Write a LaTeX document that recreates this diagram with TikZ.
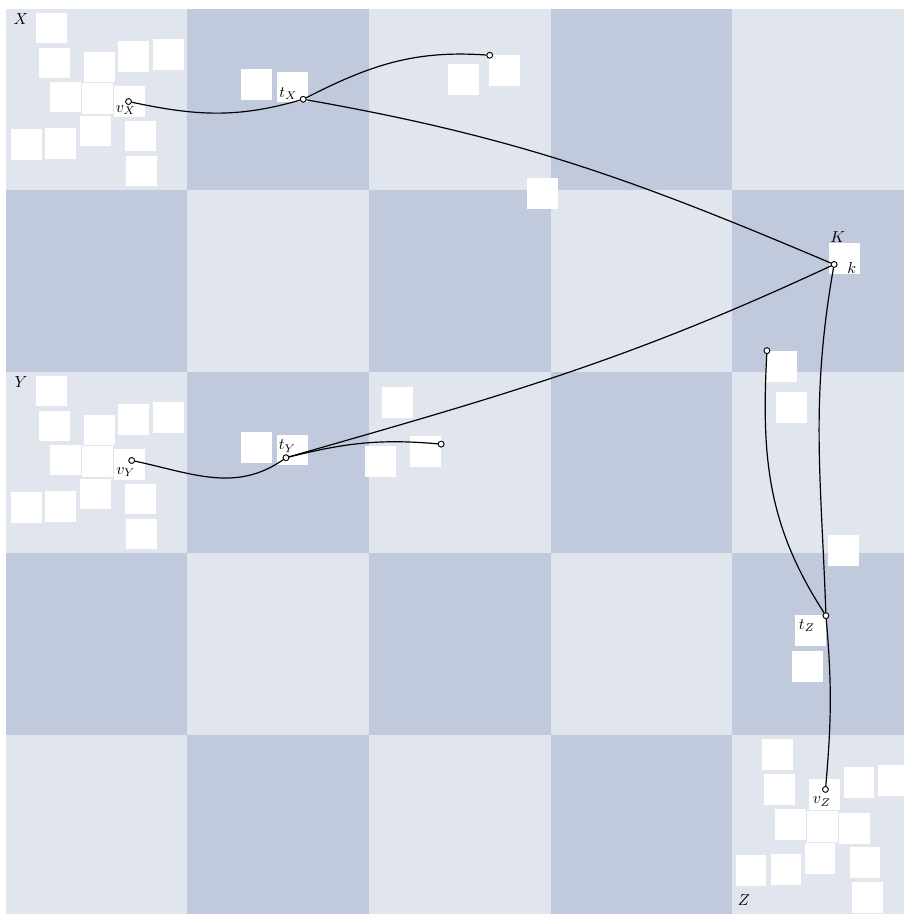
\documentclass[tikz,border=0pt]{standalone}
\usepackage{tikz}
\usetikzlibrary{positioning}
\definecolor{cLight}{HTML}{E0E5EE}
\definecolor{cDark}{HTML}{C1CADC}

% white patches of one block (top-left block, in cm)
\def\blockpatches{1.01/19.58,1.07/18.81,2.06/18.72,2.81/18.96,3.58/18.99,
  1.31/18.06,2.01/18.02,2.72/17.97,0.45/17.01,1.20/17.04,1.97/17.31,
  2.96/17.20,2.99/16.43}

\begin{document}
\begin{tikzpicture}[
  dot/.style={draw,circle,fill=white,inner sep=0pt,minimum size=3.6pt,line width=0.5pt},
  lab/.style={inner sep=1pt},
  blank/.style={fill=white},
  wire/.style={line width=0.75pt}
]
\clip (-0.132,0.055) rectangle (19.79,20.198);
% --- board ---
\fill[cLight] (0,0) rectangle (20,20);
\foreach \c/\r in {1/0,3/0,0/1,2/1,4/1,1/2,3/2,0/3,2/3,4/3,1/4,3/4}
  \fill[cDark] (4*\c,20-4*\r) rectangle ++(4,-4);

% --- white patches ---
\foreach \sh in {0,-8} {
  \begin{scope}[yshift=\sh cm]
    \foreach \x/\y in \blockpatches
      \fill[blank] (\x-0.34,\y-0.34) rectangle ++(0.68,0.68);
    \foreach \x/\y in {5.52/18.34,6.31/18.28}
      \fill[blank] (\x-0.34,\y-0.34) rectangle ++(0.68,0.68);
  \end{scope}
}
\begin{scope}[rotate around={180:(10,10)}]
  \foreach \x/\y in \blockpatches
    \fill[blank] (\x-0.34,\y-0.34) rectangle ++(0.68,0.68);
\end{scope}
\foreach \x/\y in {10.08/18.45,10.99/18.65,11.82/15.93,8.63/11.33,8.25/10.03,
  9.25/10.25,18.48/14.50,17.10/12.12,17.31/11.22,18.46/8.06,17.73/6.30,17.66/5.51}
  \fill[blank] (\x-0.34,\y-0.34) rectangle ++(0.68,0.68);

% --- block names ---
\node[lab] (nX) at (0.33,19.78) {$X$};
\node[lab] (nY) at (0.33,11.78) {$Y$};
\node[lab] (nZ) at (16.26,0.36) {$Z$};
\node[lab] (nK) at (18.33,14.98) {$K$};

% --- points ---
\node[dot] (vX) at (2.70,17.96) {};
\node[dot] (tX) at (6.55,18.01) {};
\node[dot] (xe) at (10.66,18.98) {};
\node[dot] (vY) at (2.77,10.05) {};
\node[dot] (tY) at (6.17,10.11) {};
\node[dot] (ye) at (9.59,10.41) {};
\node[dot] (k) at (18.25,14.37) {};
\node[dot] (ze) at (16.77,12.47) {};
\node[dot] (tZ) at (18.07,6.63) {};
\node[dot] (vZ) at (18.06,2.80) {};

% --- wires ---
\draw[wire] (vX) to[out=-12,in=196] (tX) to[out=27,in=176] (xe);
\draw[wire] (tX) to[out=-10,in=157] (k);
\draw[wire] (vY) to[out=-12,in=215] (tY) to[out=14,in=175] (ye);
\draw[wire] (tY) to[out=16,in=205] (k);
\draw[wire] (k) to[out=-100,in=92] (tZ) to[out=-85,in=85] (vZ);
\draw[wire] (ze) to[out=-93,in=123] (tZ);

% redraw points on top
\foreach \p in {vX,tX,xe,vY,tY,ye,k,ze,tZ,vZ}
  \node[dot] at (\p) {};

% --- point labels ---
\node[lab] (lvX) at (2.64,17.77) {$v_X$};
\node[lab] (ltX) at (6.22,18.14) {$t_X$};
\node[lab] (lvY) at (2.64,9.79) {$v_Y$};
\node[lab] (ltY) at (6.20,10.37) {$t_Y$};
\node[lab] (lk) at (18.64,14.30) {$k$};
\node[lab] (ltZ) at (17.65,6.41) {$t_Z$};
\node[lab] (lvZ) at (17.98,2.53) {$v_Z$};
\end{tikzpicture}
\end{document}
